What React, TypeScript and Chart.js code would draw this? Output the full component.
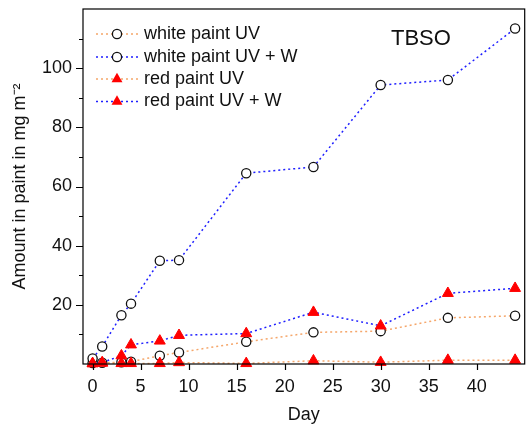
import React, { useEffect, useRef } from "react";
import { Chart, registerables } from "chart.js";

Chart.register(...registerables);

const days = [0, 1, 3, 4, 7, 9, 16, 23, 30, 37, 44];
const whiteUV = [0.3, 0.4, 0.6, 0.8, 2.8, 3.9, 7.5, 10.7, 11.1, 15.6, 16.3];
const whiteUVW = [1.9, 5.9, 16.5, 20.4, 34.9, 35.1, 64.5, 66.6, 94.3, 96.0, 113.4];
const redUV = [0.1, 0.3, 0.2, 0.2, 0.2, 0.5, 0.2, 1.1, 0.6, 1.3, 1.3];
const redUVW = [0.2, 0.5, 2.8, 6.5, 7.8, 9.7, 10.3, 17.5, 12.9, 23.9, 25.6];

const seriesNames = ["white paint UV", "white paint UV + W", "red paint UV", "red paint UV + W"];
const xTicks = [0, 5, 10, 15, 20, 25, 30, 35, 40];
const yMajorTicks = [20, 40, 60, 80, 100];
const yMinorTicks = [10, 30, 50, 70, 90, 110];
const panelLabel = "TBSO";
const xTitle = "Day";
const yTitle = "Amount in paint in mg m\u207B\u00B2";

const ORANGE = "#F5A66A";
const BLUE = "#1F1FFF";
const FONT = "Arial, 'Liberation Sans', sans-serif";

const pts = (ys: number[]) => days.map((d, i) => ({ x: d, y: ys[i] }));

const circleStyle = {
  pointStyle: "circle",
  pointRadius: 4.6,
  pointBorderColor: "#111",
  pointBackgroundColor: "#fff",
  pointBorderWidth: 1.3,
};
const triStyle = {
  pointStyle: "triangle",
  pointRadius: 6.3,
  pointBorderColor: "#FF0000",
  pointBackgroundColor: "#FF0000",
  pointBorderWidth: 1,
};

const legendItems = [
  { color: ORANGE, marker: "circle" },
  { color: BLUE, marker: "circle" },
  { color: ORANGE, marker: "triangle" },
  { color: BLUE, marker: "triangle" },
];

const decorPlugin = {
  id: "decor",
  afterDraw(chart: any) {
    const ctx = chart.ctx;
    const { left, right, top, bottom } = chart.chartArea;
    const xs = chart.scales.x;
    const ys = chart.scales.y;
    ctx.save();
    ctx.strokeStyle = "#000";
    ctx.lineWidth = 1.2;
    ctx.strokeRect(left, top, right - left, bottom - top);
    ctx.beginPath();
    for (const t of xTicks) {
      const px = Math.round(xs.getPixelForValue(t)) + 0.5;
      ctx.moveTo(px, bottom);
      ctx.lineTo(px, bottom + 6);
    }
    for (const t of yMajorTicks) {
      const py = Math.round(ys.getPixelForValue(t)) + 0.5;
      ctx.moveTo(left, py);
      ctx.lineTo(left - 7, py);
    }
    for (const t of yMinorTicks) {
      const py = Math.round(ys.getPixelForValue(t)) + 0.5;
      ctx.moveTo(left, py);
      ctx.lineTo(left - 4, py);
    }
    ctx.stroke();

    // legend
    const lx0 = 96, lx1 = 138, mx = 117, tx = 144;
    const ly = [34, 57, 79, 101.5];
    ctx.font = `18px ${FONT}`;
    ctx.textBaseline = "middle";
    ctx.textAlign = "left";
    legendItems.forEach((it, i) => {
      const y = ly[i];
      ctx.save();
      ctx.strokeStyle = it.color;
      ctx.lineWidth = 1.5;
      ctx.setLineDash([2, 3]);
      ctx.beginPath();
      ctx.moveTo(lx0, y);
      ctx.lineTo(lx1, y);
      ctx.stroke();
      ctx.restore();
      if (it.marker === "circle") {
        ctx.beginPath();
        ctx.arc(mx, y, 4.6, 0, Math.PI * 2);
        ctx.fillStyle = "#fff";
        ctx.fill();
        ctx.lineWidth = 1.3;
        ctx.strokeStyle = "#111";
        ctx.stroke();
      } else {
        const r = 6.3;
        ctx.beginPath();
        ctx.moveTo(mx, y - r);
        ctx.lineTo(mx + r * Math.sin(Math.PI / 3), y + r / 2);
        ctx.lineTo(mx - r * Math.sin(Math.PI / 3), y + r / 2);
        ctx.closePath();
        ctx.fillStyle = "#FF0000";
        ctx.fill();
      }
      ctx.fillStyle = "#111";
      ctx.fillText(seriesNames[i], tx, y);
    });

    ctx.font = `22px ${FONT}`;
    ctx.fillStyle = "#111";
    ctx.fillText(panelLabel, 391, 38.5);
    ctx.restore();
  },
};

export default function App() {
  const ref = useRef<HTMLCanvasElement | null>(null);
  useEffect(() => {
    document.body.style.margin = "0";
    const canvas = ref.current!;
    const chart = new Chart(canvas, {
      type: "line",
      data: {
        datasets: [
          {
            label: seriesNames[3],
            data: pts(redUVW),
            borderColor: BLUE,
            borderWidth: 1.5,
            borderDash: [2, 3],
            order: 0,
            clip: false,
            ...triStyle,
          } as any,
          {
            label: seriesNames[2],
            data: pts(redUV),
            borderColor: ORANGE,
            borderWidth: 1.5,
            borderDash: [2, 3],
            order: 1,
            clip: false,
            ...triStyle,
          } as any,
          {
            label: seriesNames[1],
            data: pts(whiteUVW),
            borderColor: BLUE,
            borderWidth: 1.5,
            borderDash: [2, 3],
            order: 2,
            clip: false,
            ...circleStyle,
          } as any,
          {
            label: seriesNames[0],
            data: pts(whiteUV),
            borderColor: ORANGE,
            borderWidth: 1.5,
            borderDash: [2, 3],
            order: 3,
            clip: false,
            ...circleStyle,
          } as any,
        ],
      },
      options: {
        responsive: false,
        animation: false,
        devicePixelRatio: 1,
        layout: { padding: { top: 9, right: 3, left: 0, bottom: 0 } },
        plugins: { legend: { display: false }, tooltip: { enabled: false } },
        scales: {
          x: {
            type: "linear",
            min: -1,
            max: 45,
            grid: { display: false, drawTicks: false },
            border: { display: false },
            afterBuildTicks: (s: any) => {
              s.ticks = xTicks.map((v) => ({ value: v }));
            },
            ticks: {
              autoSkip: false,
              padding: 12,
              color: "#111",
              font: { family: FONT, size: 18 },
              maxRotation: 0,
              callback: (v: any) => String(v),
            },
            title: {
              display: true,
              text: xTitle,
              color: "#111",
              font: { family: FONT, size: 18 },
              padding: { top: 0, bottom: 1 },
            },
            afterFit: (s: any) => {
              s.height = 63;
              s.paddingLeft = 0;
              s.paddingRight = 0;
            },
          },
          y: {
            type: "linear",
            min: 0,
            max: 120,
            grid: { display: false, drawTicks: false },
            border: { display: false },
            afterBuildTicks: (s: any) => {
              s.ticks = yMajorTicks.map((v) => ({ value: v }));
            },
            ticks: {
              autoSkip: false,
              padding: 11,
              color: "#111",
              font: { family: FONT, size: 18 },
              callback: (v: any) => String(v),
            },
            title: {
              display: true,
              text: yTitle,
              color: "#111",
              font: { family: FONT, size: 18 },
              padding: { top: 9, bottom: 0 },
            },
            afterFit: (s: any) => {
              s.width = 83;
              s.paddingTop = 0;
              s.paddingBottom = 0;
            },
          },
        },
      },
      plugins: [decorPlugin],
    } as any);
    return () => chart.destroy();
  }, []);
  return <canvas ref={ref} width={532} height={427} style={{ display: "block" }} />;
}
